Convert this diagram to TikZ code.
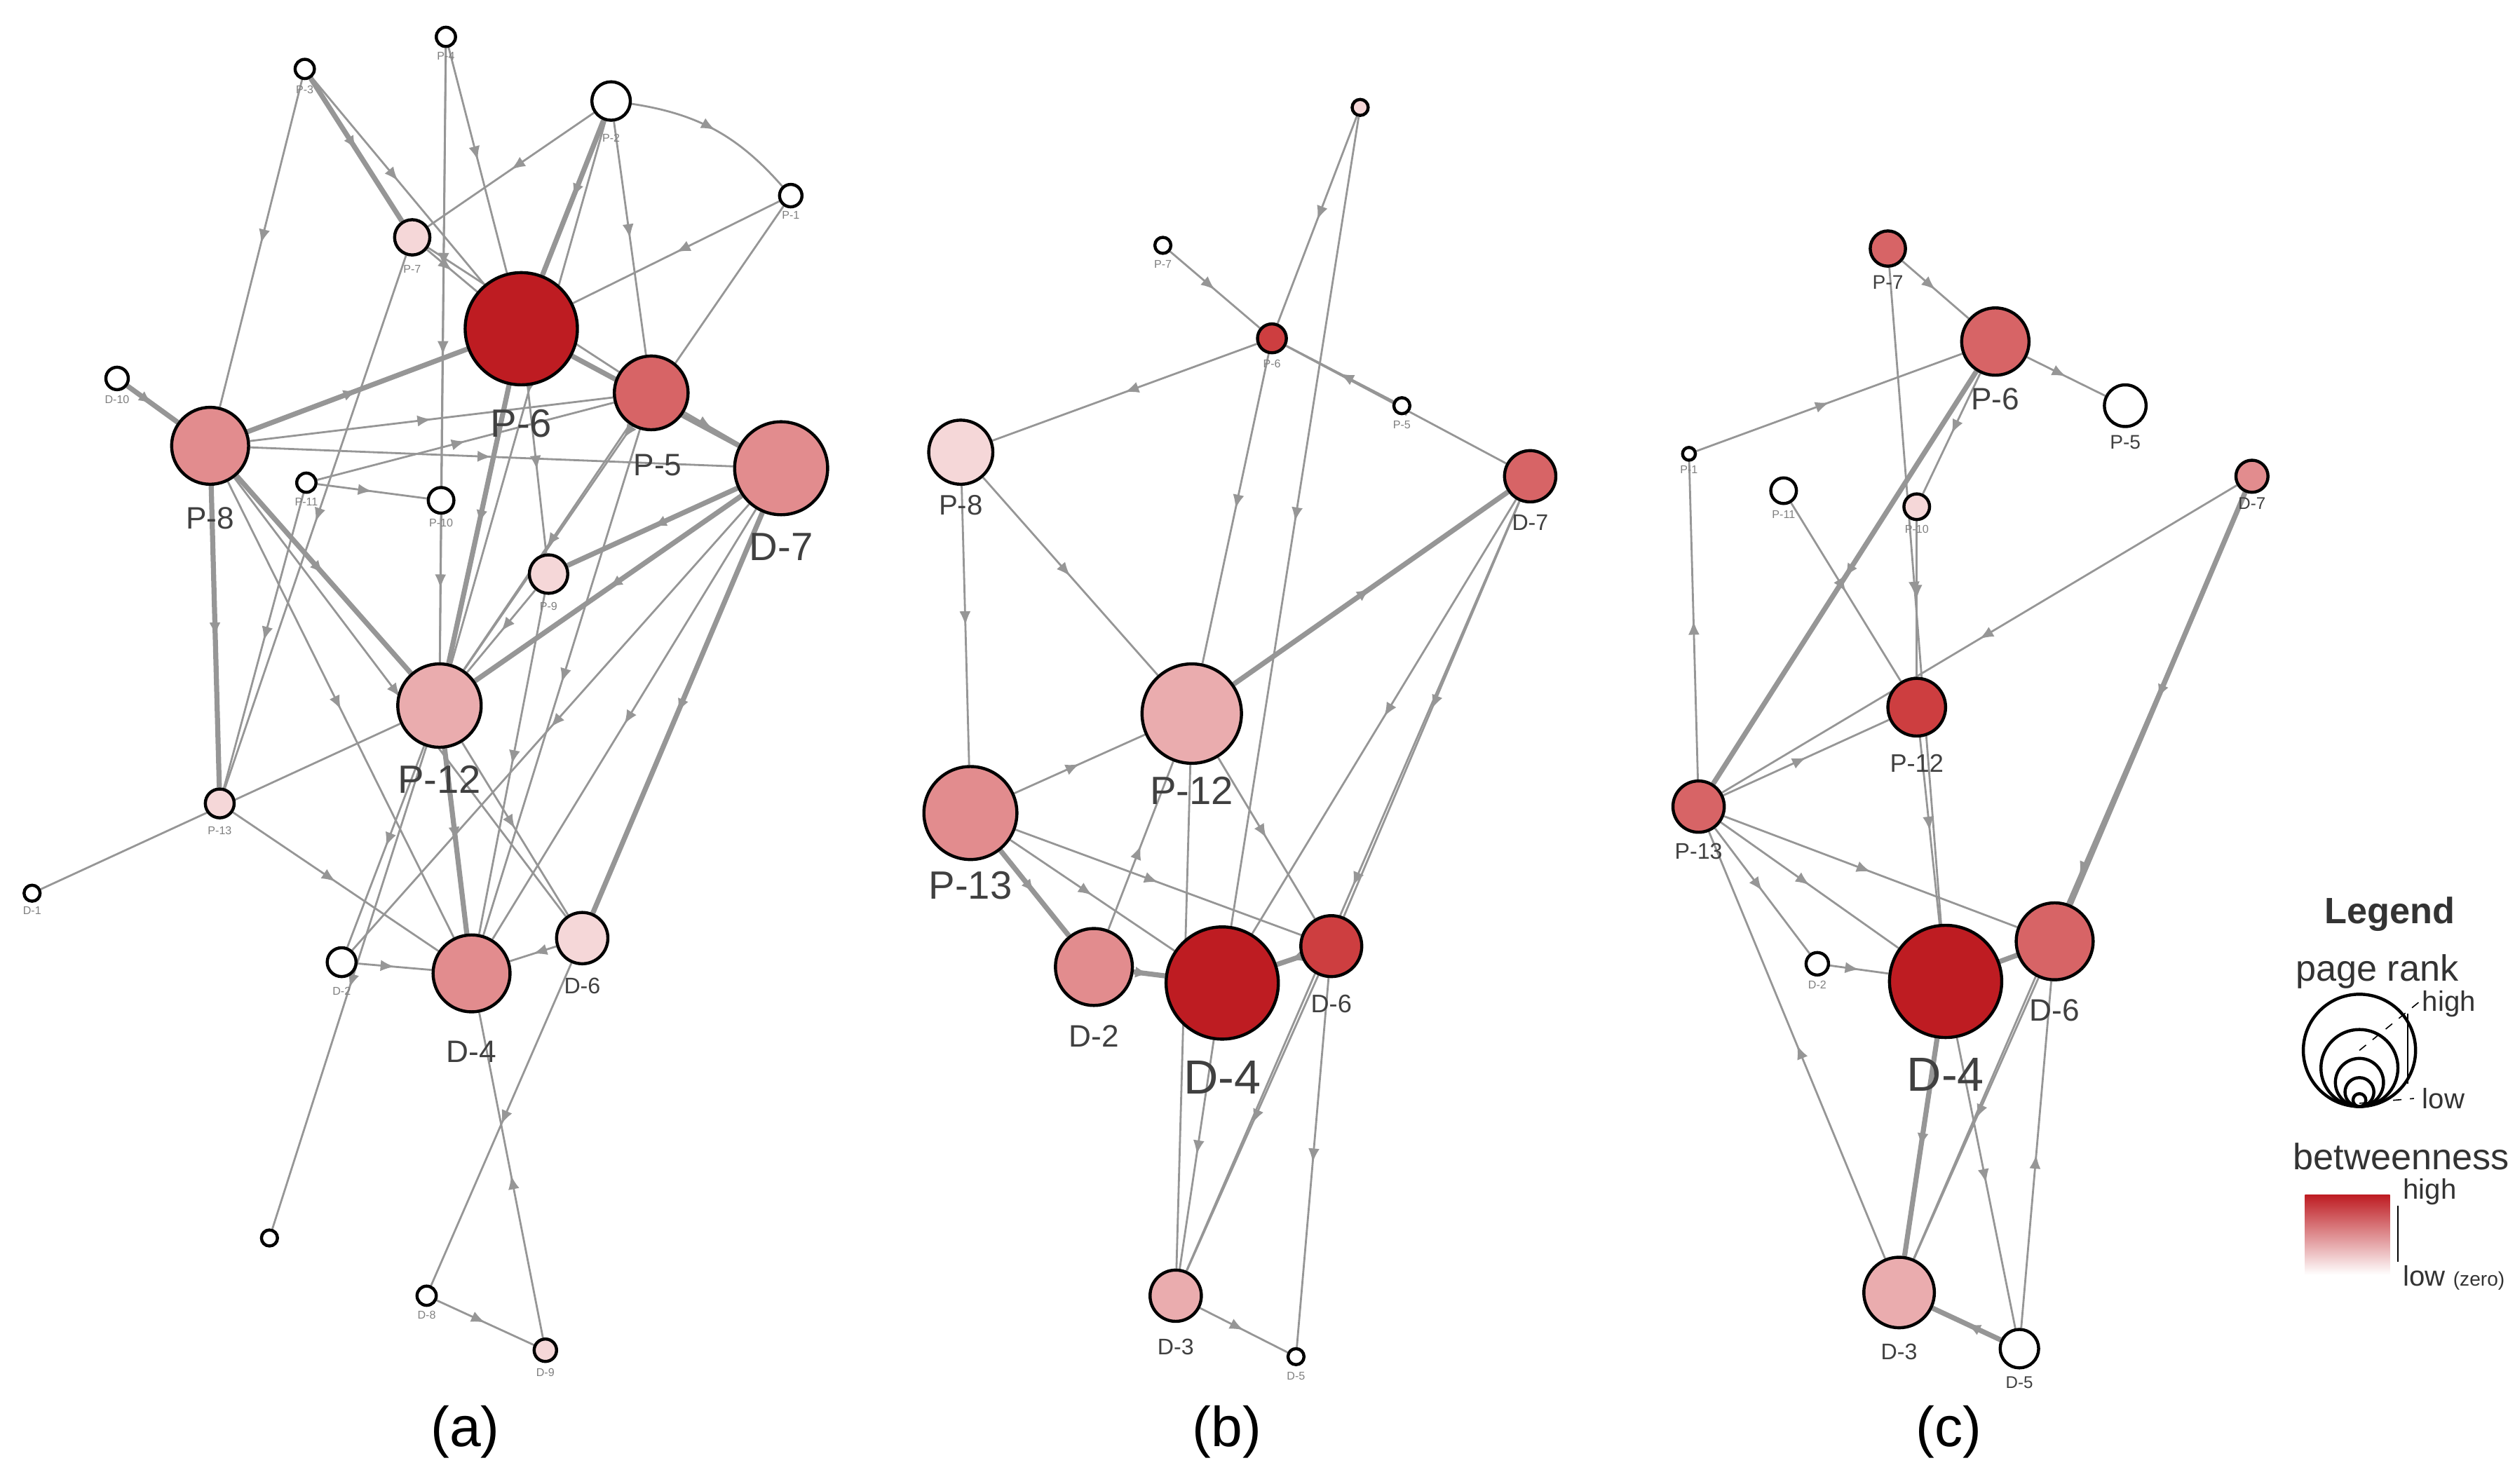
\documentclass[tikz,border=0pt]{standalone}
\usepackage{fontspec}
\setmainfont{Liberation Sans}
\usetikzlibrary{arrows.meta, decorations.markings, backgrounds}
\definecolor{rk5}{RGB}{190,28,34}
\definecolor{rk4}{RGB}{205,62,64}
\definecolor{rk3}{RGB}{215,100,102}
\definecolor{rk2}{RGB}{226,140,142}
\definecolor{rk1}{RGB}{234,172,174}
\definecolor{rk0}{RGB}{245,215,216}
\definecolor{edgegray}{RGB}{150,150,150}
\begin{document}
\begin{tikzpicture}[x=0.02cm, y=-0.02cm]
        \tikzset{vertex/.style = {shape=circle, draw, line width=1.1pt, inner sep=0pt, minimum size=#1*0.04cm}}
        \tikzset{big/.style = {font=\fontsize{14}{14}\selectfont, text=black!75}}
        \tikzset{small/.style = {font=\fontsize{4}{4}\selectfont, text=black!50}}
        \tikzset{edge/.style = {draw=edgegray, line width=0.7pt, postaction={decorate},
            decoration={markings, mark=at position 0.5 with {\arrow[edgegray]{Latex[length=5pt,width=4pt]}}}}}
        \tikzset{heavy/.style = {edge, line width=1.8pt}}
        \useasboundingbox (0,0) rectangle (1568,925);

        % panel (a)
        \node[vertex=35, fill=rk5] (a6) at (325,205) {};
        \node[vertex=23, fill=rk3] (a5) at (406,245) {};
        \node[vertex=29, fill=rk2] (a7) at (487,292) {};
        \node[vertex=24, fill=rk2] (a8) at (131,278) {};
        \node[vertex=11, fill=rk0] (a7p) at (257,148) {};
        \node[vertex=12, fill=white] (a2) at (381,63) {};
        \node[vertex=6, fill=white] (a3) at (190,43) {};
        \node[vertex=6, fill=white] (a4) at (278,23) {};
        \node[vertex=7, fill=white] (a1) at (493,122) {};
        \node[vertex=7, fill=white] (a10d) at (73,236) {};
        \node[vertex=6, fill=white] (a11) at (191,301) {};
        \node[vertex=8, fill=white] (a10) at (275,312) {};
        \node[vertex=12, fill=rk0] (a9) at (342,358) {};
        \node[vertex=26, fill=rk1] (a12) at (274,440) {};
        \node[vertex=9, fill=rk0] (a13) at (137,501) {};
        \node[vertex=5, fill=white] (a14) at (20,557) {};
        \node[vertex=9, fill=white] (ad2) at (213,600) {};
        \node[vertex=24, fill=rk2] (ad4) at (294,607) {};
        \node[vertex=16, fill=rk0] (ad6) at (363,585) {};
        \node[vertex=5, fill=white] (ae1) at (168,772) {};
        \node[vertex=6, fill=white] (ae2) at (266,808) {};
        \node[vertex=7, fill=rk0] (ae3) at (340,842) {};
        \node[big] at (325,264) {P-6};
        \node[big, font=\fontsize{11}{11}\selectfont] at (410,290) {P-5};
        \node[big] at (487,341) {D-7};
        \node[big, font=\fontsize{11}{11}\selectfont] at (131,323) {P-8};
        \node[big] at (274,486) {P-12};
        \node[big, font=\fontsize{11}{11}\selectfont] at (294,656) {D-4};
        \node[big, font=\fontsize{8}{8}\selectfont] at (363,615) {D-6};
        \node[small] at (257,168) {P-7};
        \node[small] at (381,86) {P-2};
        \node[small] at (190,56) {P-3};
        \node[small] at (278,35) {P-4};
        \node[small] at (493,134) {P-1};
        \node[small] at (73,249) {D-10};
        \node[small] at (191,313) {P-11};
        \node[small] at (275,326) {P-10};
        \node[small] at (342,378) {P-9};
        \node[small] at (137,518) {P-13};
        \node[small] at (20,568) {D-1};
        \node[small] at (213,618) {D-2};
        \node[small] at (266,820) {D-8};
        \node[small] at (340,856) {D-9};

        % panel (b)
        \node[vertex=5, fill=rk0] (b1) at (848,67) {};
        \node[vertex=5, fill=white] (b2) at (725,153) {};
        \node[vertex=9, fill=rk4] (b6) at (793,211) {};
        \node[vertex=5, fill=white] (b3) at (874,253) {};
        \node[vertex=16, fill=rk3] (b7) at (954,297) {};
        \node[vertex=20, fill=rk0] (b8) at (599,282) {};
        \node[vertex=31, fill=rk1] (b12) at (743,445) {};
        \node[vertex=29, fill=rk2] (b13) at (605,507) {};
        \node[vertex=24, fill=rk2] (bd2) at (682,603) {};
        \node[vertex=35, fill=rk5] (bd4) at (762,613) {};
        \node[vertex=19, fill=rk4] (bd6) at (830,590) {};
        \node[vertex=16, fill=rk1] (bd3) at (733,808) {};
        \node[vertex=5, fill=white] (b4) at (808,846) {};
        \node[small] at (793,227) {P-6};
        \node[small] at (725,165) {P-7};
        \node[small] at (874,265) {P-5};
        \node[small] at (808,858) {D-5};
        \node[big, font=\fontsize{8}{8}\selectfont] at (954,326) {D-7};
        \node[big, font=\fontsize{10}{10}\selectfont] at (599,315) {P-8};
        \node[big] at (743,493) {P-12};
        \node[big] at (605,552) {P-13};
        \node[big, font=\fontsize{11}{11}\selectfont] at (682,646) {D-2};
        \node[big, font=\fontsize{17}{17}\selectfont] at (762,672) {D-4};
        \node[big, font=\fontsize{9}{9}\selectfont] at (830,626) {D-6};
        \node[big, font=\fontsize{8}{8}\selectfont] at (733,840) {D-3};

        % panel (c)
        \node[vertex=11, fill=rk3] (c7) at (1177,155) {};
        \node[vertex=21, fill=rk3] (c6) at (1244,213) {};
        \node[vertex=13, fill=white] (c5) at (1325,253) {};
        \node[vertex=10, fill=rk2] (cd7) at (1404,297) {};
        \node[vertex=4, fill=white] (c1) at (1053,283) {};
        \node[vertex=8, fill=white] (c11) at (1112,306) {};
        \node[vertex=8, fill=rk0] (c10) at (1195,316) {};
        \node[vertex=18, fill=rk4] (c12) at (1195,441) {};
        \node[vertex=16, fill=rk3] (c13) at (1059,503) {};
        \node[vertex=7, fill=white] (cd2) at (1133,601) {};
        \node[vertex=35, fill=rk5] (cd4) at (1213,612) {};
        \node[vertex=24, fill=rk3] (cd6) at (1281,587) {};
        \node[vertex=22, fill=rk1] (cd3) at (1184,806) {};
        \node[vertex=12, fill=white] (cd5) at (1259,841) {};
        \node[small] at (1053,293) {P-1};
        \node[small] at (1112,321) {P-11};
        \node[small] at (1195,330) {P-10};
        \node[small] at (1133,614) {D-2};
        \node[big, font=\fontsize{7}{7}\selectfont] at (1177,176) {P-7};
        \node[big, font=\fontsize{11}{11}\selectfont] at (1244,249) {P-6};
        \node[big, font=\fontsize{7}{7}\selectfont] at (1325,276) {P-5};
        \node[big, font=\fontsize{6}{6}\selectfont] at (1404,314) {D-7};
        \node[big, font=\fontsize{9}{9}\selectfont] at (1195,476) {P-12};
        \node[big, font=\fontsize{8}{8}\selectfont] at (1059,531) {P-13};
        \node[big, font=\fontsize{17}{17}\selectfont] at (1213,670) {D-4};
        \node[big, font=\fontsize{11}{11}\selectfont] at (1281,630) {D-6};
        \node[big, font=\fontsize{8}{8}\selectfont] at (1184,843) {D-3};
        \node[big, font=\fontsize{6}{6}\selectfont] at (1259,862) {D-5};

        % connectors behind the nodes
        \begin{scope}[on background layer]
        \draw[heavy] (a8) to (a6);
        \draw[edge] (a8) to (a5);
        \draw[edge] (a8) to (a7);
        \draw[heavy] (a8) to (a12);
        \draw[heavy] (a8) to (a13);
        \draw[edge] (a8) to (ad4);
        \draw[edge] (a8) to (ad6);
        \draw[heavy] (a10d) to (a8);
        \draw[edge] (a3) to (a8);
        \draw[heavy] (a3) to (a7p);
        \draw[edge] (a3) to (a6);
        \draw[edge] (a4) to (a6);
        \draw[edge] (a4) to (a12);
        \draw[edge] (a4) to (a10);
        \draw[heavy] (a2) to (a6);
        \draw[edge] (a2) to (a7p);
        \draw[edge] (a2) to (a12);
        \draw[edge] (a2) to (a5);
        \draw[edge] (a2) to[bend left=20] (a1);
        \draw[edge] (a1) to (a6);
        \draw[edge] (a1) to (a12);
        \draw[edge] (a7p) to (a6);
        \draw[edge] (a7p) to (a5);
        \draw[edge] (a7p) to (a13);
        \draw[edge] (a6) to (a9);
        \draw[heavy] (a6) to (a12);
        \draw[heavy] (a6) to (a7);
        \draw[edge] (a5) to (a7);
        \draw[edge] (a5) to (a12);
        \draw[edge] (a5) to (ad4);
        \draw[heavy] (a7) to (a12);
        \draw[heavy] (a7) to (a9);
        \draw[edge] (a7) to (ad4);
        \draw[heavy] (a7) to (ad6);
        \draw[edge] (a7) to (ad2);
        \draw[edge] (a11) to (a10);
        \draw[edge] (a11) to (a13);
        \draw[edge] (a11) to (a5);
        \draw[edge] (a10) to (a12);
        \draw[edge] (a9) to (a12);
        \draw[edge] (a9) to (ad4);
        \draw[edge] (a12) to (a14);
        \draw[heavy] (a12) to (ad4);
        \draw[edge] (a12) to (ad6);
        \draw[edge] (a12) to (ad2);
        \draw[edge] (a12) to (ae1);
        \draw[edge] (a13) to (ad4);
        \draw[edge] (ad2) to (ad4);
        \draw[edge] (ad6) to (ad4);
        \draw[edge] (ad6) to (ae2);
        \draw[edge] (ae2) to (ae3);
        \draw[edge] (ae3) to (ad4);

        \draw[edge] (b2) to (b6);
        \draw[edge] (b1) to (b6);
        \draw[edge] (b1) to (bd4);
        \draw[edge] (b6) to (b8);
        \draw[edge] (b6) to (b12);
        \draw[edge] (b7) to (b6);
        \draw[edge] (b3) to (b6);
        \draw[edge] (b8) to (b13);
        \draw[edge] (b8) to (b12);
        \draw[edge] (b13) to (b12);
        \draw[heavy] (b13) to (bd2);
        \draw[edge] (b13) to (bd4);
        \draw[edge] (b13) to (bd6);
        \draw[edge] (bd2) to (b12);
        \draw[edge] (b12) to (bd6);
        \draw[edge] (b12) to (bd3);
        \draw[heavy] (b12) to (b7);
        \draw[edge] (b7) to (bd4);
        \draw[edge] (b7) to (bd6);
        \draw[edge] (b7) to (bd3);
        \draw[heavy] (bd2) to (bd4);
        \draw[heavy] (bd6) to (bd4);
        \draw[edge] (bd6) to (bd3);
        \draw[edge] (bd6) to (b4);
        \draw[edge] (bd3) to (b4);
        \draw[edge] (bd4) to (bd3);

        \draw[edge] (c7) to (c6);
        \draw[edge] (c6) to (c5);
        \draw[edge] (c7) to (cd4);
        \draw[edge] (c1) to (c6);
        \draw[heavy] (c6) to (c13);
        \draw[edge] (c6) to (c10);
        \draw[edge] (c11) to (c12);
        \draw[edge] (c10) to (c12);
        \draw[edge] (cd7) to (c13);
        \draw[edge] (c13) to (c12);
        \draw[edge] (c13) to (cd2);
        \draw[edge] (c13) to (cd4);
        \draw[edge] (c13) to (cd6);
        \draw[edge] (cd3) to (c13);
        \draw[edge] (c13) to (c1);
        \draw[edge] (c12) to (cd4);
        \draw[edge] (cd2) to (cd4);
        \draw[heavy] (cd6) to (cd4);
        \draw[heavy] (cd7) to (cd6);
        \draw[edge] (cd7) to (cd3);
        \draw[heavy] (cd4) to (cd3);
        \draw[edge] (cd6) to (cd3);
        \draw[edge] (cd4) to (cd5);
        \draw[heavy] (cd5) to (cd3);
        \draw[edge] (cd5) to (cd6);
        \end{scope}

        % legend
        \node[font=\fontsize{13}{13}\selectfont\bfseries, text=black!80] (legtitle) at (1490,570) {Legend};
        \node[font=\fontsize{13}{13}\selectfont, text=black!80] (legrank) at (1482,606) {page rank};
        \foreach \r in {35,24,15,9,4}
          \draw[line width=1.1pt] (1471,690-\r) circle[radius=\r];
        \draw[dashed, thin] (1471,655) -- (1508,625);
        \draw[dashed, thin] (1471,688) -- (1505,685);
        \draw[thin] (1501,632) -- (1501,676);
        \node[font=\fontsize{10}{10}\selectfont, text=black!80, anchor=west] at (1504,626) {high};
        \node[font=\fontsize{10}{10}\selectfont, text=black!80, anchor=west] at (1504,685) {low};
        \node[font=\fontsize{13}{13}\selectfont, text=black!80] (legbetw) at (1497,721) {betweenness};
        \shade[top color=rk5, bottom color=white] (1437,745) rectangle (1490,795);
        \draw[thin] (1495,752) -- (1495,787);
        \node[font=\fontsize{10}{10}\selectfont, text=black!80, anchor=west] at (1492,743) {high};
        \node[font=\fontsize{10}{10}\selectfont, text=black!80, anchor=west] at (1492,797) {low {\fontsize{7}{7}\selectfont(zero)}};

        % panel labels
        \node[font=\fontsize{20}{20}\selectfont] (capa) at (290,893) {(a)};
        \node[font=\fontsize{20}{20}\selectfont] (capb) at (765,893) {(b)};
        \node[font=\fontsize{20}{20}\selectfont] (capc) at (1215,893) {(c)};
      \end{tikzpicture}
\end{document}
